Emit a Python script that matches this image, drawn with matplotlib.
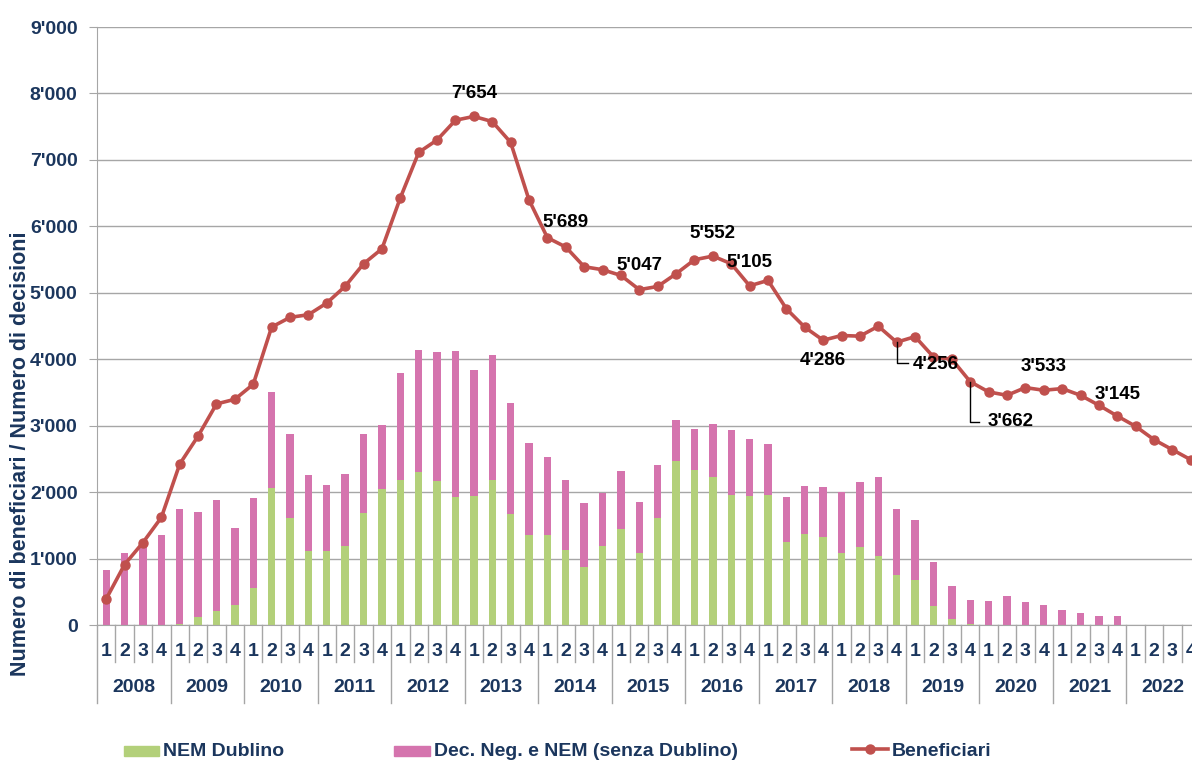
import matplotlib
matplotlib.use('Agg')
import matplotlib.pyplot as plt
from matplotlib.ticker import FuncFormatter, MultipleLocator
from matplotlib.lines import Line2D
from matplotlib.patches import Rectangle
import numpy as np

plt.rcParams['font.family'] = ['Liberation Sans', 'DejaVu Sans']

# ---------------- data ----------------
years = [str(y) for y in range(2008, 2023)]
quarters = ['1', '2', '3', '4']

nem_dublino = [0, 0, 0, 0, 20, 116, 206, 307, 553, 2060, 1608, 1116,
               1116, 1186, 1693, 2045, 2181, 2296, 2171, 1925, 1940, 2181, 1668, 1352,
               1352, 1126, 869, 1186, 1442, 1080, 1608, 2462, 2327, 2226, 1955, 1940,
               1955, 1256, 1367, 1322, 1080, 1171, 1035, 749, 678, 291, 85, 20,
               0, 0, 0, 0, 0, 0, 0, 0, 0, 0, 0, 0]
decisioni_totali = [824, 1090, 1230, 1347, 1744, 1704, 1879, 1467, 1910, 3513, 2879, 2251,
                    2100, 2266, 2879, 3005, 3789, 4146, 4106, 4131, 3844, 4065, 3337, 2744,
                    2528, 2181, 1839, 1990, 2322, 1854, 2402, 3080, 2945, 3020, 2930, 2794,
                    2724, 1925, 2090, 2075, 2005, 2156, 2226, 1739, 1578, 950, 593, 372,
                    357, 442, 342, 307, 221, 181, 141, 141, 0, 0, 0, 0]
dec_neg = [t - g for t, g in zip(decisioni_totali, nem_dublino)]

beneficiari = [392, 910, 1241, 1618, 2422, 2844, 3327, 3397, 3623, 4484, 4630, 4670,
               4846, 5098, 5436, 5662, 6428, 7113, 7300, 7597, 7654, 7577, 7264, 6398,
               5829, 5689, 5392, 5347, 5261, 5047, 5095, 5286, 5497, 5552, 5437, 5105,
               5186, 4759, 4482, 4286, 4357, 4347, 4497, 4256, 4340, 4035, 4000, 3662,
               3508, 3457, 3573, 3533, 3558, 3457, 3307, 3145, 2990, 2789, 2638, 2487]

labelled_idx = [20, 25, 29, 33, 35, 39, 43, 47, 51, 55]

# ---------------- style ----------------
GREEN = '#B3D07A'
PINK = '#D574AE'
RED = '#C0504D'
NAVY = '#1B365D'
GRID = '#A6A6A6'

W, H = 1192, 760
fig = plt.figure(figsize=(W / 100, H / 100), dpi=100)
ax_left, ax_right, ax_top, ax_bot = 97, 1200, 27, 625
ax = fig.add_axes([ax_left / W, (H - ax_bot) / H, (ax_right - ax_left) / W, (ax_bot - ax_top) / H])

x = np.arange(len(beneficiari))
ax.bar(x, nem_dublino, width=0.4, color=GREEN, zorder=2)
ax.bar(x, dec_neg, bottom=nem_dublino, width=0.4, color=PINK, zorder=2)
ax.plot(x, beneficiari, color=RED, lw=2.6, marker='o', ms=6.5, zorder=3, clip_on=True)

ax.set_xlim(-0.5, len(x) - 0.5)
ax.set_ylim(0, 9000)
ax.yaxis.set_major_locator(MultipleLocator(1000))
ax.yaxis.set_major_formatter(FuncFormatter(lambda v, p: f"{int(v):,}".replace(",", "'")))
ax.grid(axis='y', color=GRID, lw=1.0, zorder=0)
ax.set_axisbelow(True)
for s in ['top', 'right']:
    ax.spines[s].set_visible(False)
ax.spines['left'].set_color(GRID)
ax.spines['bottom'].set_color(GRID)
ax.set_xticks([])
ax.tick_params(axis='y', length=6, color=GRID, labelsize=14, labelcolor=NAVY, pad=8)
for lab in ax.get_yticklabels():
    lab.set_fontweight('bold')

# ---------------- two-level category axis ----------------
ax_h = ax_bot - ax_top
def yfrac(py):
    return (ax_bot - py) / ax_h

tr = ax.get_xaxis_transform()
n = len(x)
for i in range(n + 1):
    is_year = (i % 4 == 0)
    y_end = 703 if is_year else 662
    ax.plot([i - 0.5, i - 0.5], [0, yfrac(y_end)], transform=tr, color=GRID, lw=1.0, clip_on=False)
for i in range(n):
    ax.text(i, yfrac(651), quarters[i % 4], transform=tr, ha='center', va='center',
            fontsize=14, fontweight='bold', color=NAVY, clip_on=False)
for k, yr in enumerate(years):
    ax.text(4 * k + 1.5, yfrac(688), yr, transform=tr, ha='center', va='center',
            fontsize=14, fontweight='bold', color=NAVY, clip_on=False)

fig.text(21 / W, (H - 454) / H, 'Numero di beneficiari / Numero di decisioni', rotation=90,
         ha='center', va='center', fontsize=15.5, fontweight='bold', color=NAVY)

# ---------------- data labels ----------------
offsets = {20: (0, 23), 25: (0, 24), 29: (0, 24), 33: (0, 23), 35: (0, 23),
           39: (0, -20), 51: (0, 24), 55: (0, 22)}
for i in labelled_idx:
    txt = f"{beneficiari[i]:,}".replace(",", "'")
    if i in offsets:
        dx, dy = offsets[i]
        ax.annotate(txt, (x[i], beneficiari[i]), xytext=(dx, dy), textcoords='offset pixels',
                    ha='center', va='center', fontsize=13.5, fontweight='bold', color='black',
                    zorder=5)

# leader-line labels
lead = {43: (21, 11, 16, -22), 47: (40, 9, 17, -40)}
for i, (down, right, tx, ty) in lead.items():
    txt = f"{beneficiari[i]:,}".replace(",", "'")
    px, py = ax.transData.transform((x[i], beneficiari[i]))
    inv = ax.transData.inverted()
    p1 = inv.transform((px, py - down))
    p2 = inv.transform((px + right, py - down))
    ax.plot([x[i], p1[0], p2[0]], [beneficiari[i], p1[1], p2[1]], color='black', lw=1.0, zorder=4)
    ax.annotate(txt, (x[i], beneficiari[i]), xytext=(tx, ty), textcoords='offset pixels',
                ha='left', va='center', fontsize=13.5, fontweight='bold', color='black', zorder=5)

# ---------------- legend ----------------
def fx(px):
    return px / W
def fy(py):
    return (H - py) / H

ly = 751
fig.patches.append(Rectangle((fx(124), fy(756)), 35 / W, 10 / H, transform=fig.transFigure,
                             color=GREEN, figure=fig))
fig.text(fx(163), fy(ly), 'NEM Dublino', ha='left', va='center', fontsize=14,
         fontweight='bold', color=NAVY)
fig.patches.append(Rectangle((fx(394), fy(756)), 36 / W, 10 / H, transform=fig.transFigure,
                             color=PINK, figure=fig))
fig.text(fx(434), fy(ly), 'Dec. Neg. e NEM (senza Dublino)', ha='left', va='center', fontsize=14,
         fontweight='bold', color=NAVY)
fig.lines.append(Line2D([fx(852), fx(888)], [fy(749), fy(749)], transform=fig.transFigure,
                        color=RED, lw=2.6, figure=fig))
fig.lines.append(Line2D([fx(870)], [fy(749)], transform=fig.transFigure, color=RED,
                        marker='o', ms=6.5, figure=fig))
fig.text(fx(892), fy(ly), 'Beneficiari', ha='left', va='center', fontsize=14,
         fontweight='bold', color=NAVY)

fig.savefig('out.png', dpi=100)
